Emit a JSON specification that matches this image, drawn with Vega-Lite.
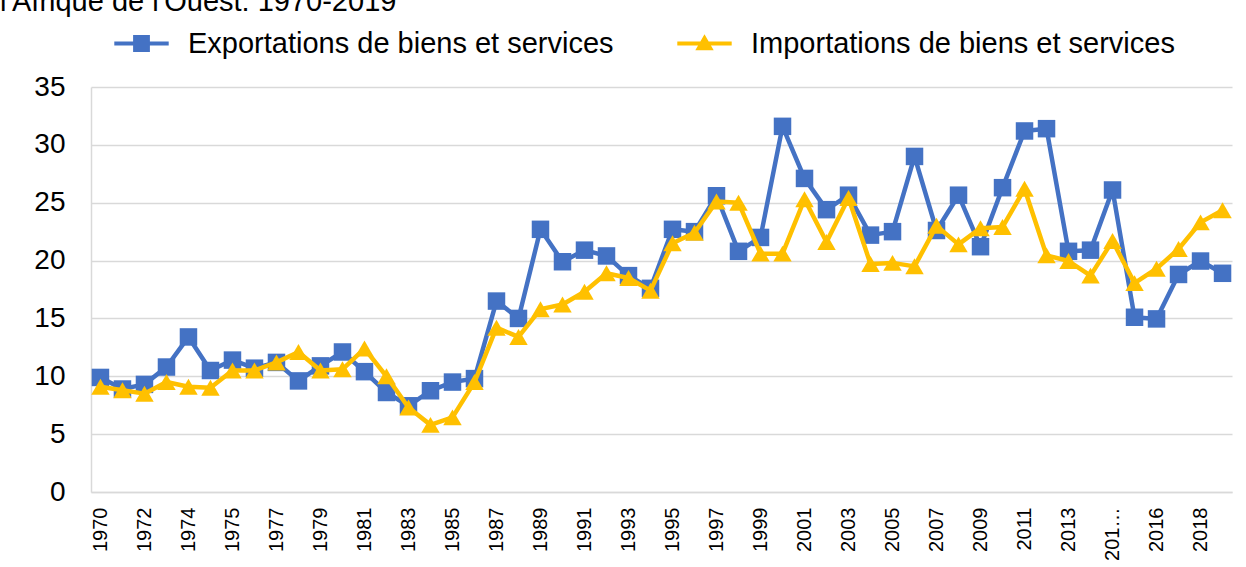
{
  "$schema": "https://vega.github.io/schema/vega-lite/v6.json",
  "autosize": {"type": "none"},
  "padding": {"left": 91, "top": 87, "right": 14, "bottom": 75},
  "width": 1141,
  "height": 405,
  "background": "white",
  "title": {
    "text": "l'Afrique de l'Ouest: 1970-2019",
    "anchor": "start",
    "frame": "group",
    "orient": "top",
    "baseline": "alphabetic",
    "offset": 16,
    "dx": -91,
    "dy": 27,
    "font": "Liberation Sans",
    "fontSize": 29,
    "fontWeight": "normal",
    "color": "#000000"
  },
  "config": {
    "view": {"stroke": null},
    "font": "Liberation Sans",
    "axis": {
      "labelFont": "Liberation Sans",
      "labelColor": "#000000",
      "gridColor": "#d9d9d9",
      "gridWidth": 1.5,
      "domainColor": "#d9d9d9",
      "domainWidth": 1.5,
      "ticks": false,
      "title": null
    },
    "legend": {
      "orient": "none",
      "direction": "horizontal",
      "title": null,
      "padding": 0,
      "symbolSize": 256,
      "symbolStrokeWidth": 0,
      "symbolOpacity": 1,
      "labelFont": "Liberation Sans",
      "labelFontSize": 29,
      "labelColor": "#000000",
      "labelOffset": 32,
      "labelLimit": 600
    }
  },
  "data": {
    "values": [
      {"annee": "1970", "serie": "Exportations de biens et services", "valeur": 9.9},
      {"annee": "1971", "serie": "Exportations de biens et services", "valeur": 8.9},
      {"annee": "1972", "serie": "Exportations de biens et services", "valeur": 9.3},
      {"annee": "1973", "serie": "Exportations de biens et services", "valeur": 10.8},
      {"annee": "1974", "serie": "Exportations de biens et services", "valeur": 13.4},
      {"annee": "1974/75", "serie": "Exportations de biens et services", "valeur": 10.5},
      {"annee": "1975", "serie": "Exportations de biens et services", "valeur": 11.4},
      {"annee": "1976", "serie": "Exportations de biens et services", "valeur": 10.7},
      {"annee": "1977", "serie": "Exportations de biens et services", "valeur": 11.2},
      {"annee": "1978", "serie": "Exportations de biens et services", "valeur": 9.6},
      {"annee": "1979", "serie": "Exportations de biens et services", "valeur": 10.9},
      {"annee": "1980", "serie": "Exportations de biens et services", "valeur": 12.1},
      {"annee": "1981", "serie": "Exportations de biens et services", "valeur": 10.4},
      {"annee": "1982", "serie": "Exportations de biens et services", "valeur": 8.6},
      {"annee": "1983", "serie": "Exportations de biens et services", "valeur": 7.45},
      {"annee": "1984", "serie": "Exportations de biens et services", "valeur": 8.75},
      {"annee": "1985", "serie": "Exportations de biens et services", "valeur": 9.5},
      {"annee": "1986", "serie": "Exportations de biens et services", "valeur": 9.8},
      {"annee": "1987", "serie": "Exportations de biens et services", "valeur": 16.5},
      {"annee": "1988", "serie": "Exportations de biens et services", "valeur": 15.0},
      {"annee": "1989", "serie": "Exportations de biens et services", "valeur": 22.7},
      {"annee": "1990", "serie": "Exportations de biens et services", "valeur": 19.9},
      {"annee": "1991", "serie": "Exportations de biens et services", "valeur": 20.9},
      {"annee": "1992", "serie": "Exportations de biens et services", "valeur": 20.4},
      {"annee": "1993", "serie": "Exportations de biens et services", "valeur": 18.7},
      {"annee": "1994", "serie": "Exportations de biens et services", "valeur": 17.6},
      {"annee": "1995", "serie": "Exportations de biens et services", "valeur": 22.7},
      {"annee": "1996", "serie": "Exportations de biens et services", "valeur": 22.5},
      {"annee": "1997", "serie": "Exportations de biens et services", "valeur": 25.6},
      {"annee": "1998", "serie": "Exportations de biens et services", "valeur": 20.8},
      {"annee": "1999", "serie": "Exportations de biens et services", "valeur": 22.0},
      {"annee": "2000", "serie": "Exportations de biens et services", "valeur": 31.6},
      {"annee": "2001", "serie": "Exportations de biens et services", "valeur": 27.1},
      {"annee": "2002", "serie": "Exportations de biens et services", "valeur": 24.4},
      {"annee": "2003", "serie": "Exportations de biens et services", "valeur": 25.65},
      {"annee": "2004", "serie": "Exportations de biens et services", "valeur": 22.2},
      {"annee": "2005", "serie": "Exportations de biens et services", "valeur": 22.5},
      {"annee": "2006", "serie": "Exportations de biens et services", "valeur": 29.0},
      {"annee": "2007", "serie": "Exportations de biens et services", "valeur": 22.6},
      {"annee": "2008", "serie": "Exportations de biens et services", "valeur": 25.65},
      {"annee": "2009", "serie": "Exportations de biens et services", "valeur": 21.2},
      {"annee": "2010", "serie": "Exportations de biens et services", "valeur": 26.3},
      {"annee": "2011", "serie": "Exportations de biens et services", "valeur": 31.2},
      {"annee": "2012", "serie": "Exportations de biens et services", "valeur": 31.4},
      {"annee": "2013", "serie": "Exportations de biens et services", "valeur": 20.8},
      {"annee": "2014", "serie": "Exportations de biens et services", "valeur": 20.9},
      {"annee": "2015 (révisé)", "serie": "Exportations de biens et services", "valeur": 26.1},
      {"annee": "2015", "serie": "Exportations de biens et services", "valeur": 15.1},
      {"annee": "2016", "serie": "Exportations de biens et services", "valeur": 14.96},
      {"annee": "2017", "serie": "Exportations de biens et services", "valeur": 18.8},
      {"annee": "2018", "serie": "Exportations de biens et services", "valeur": 19.96},
      {"annee": "2019", "serie": "Exportations de biens et services", "valeur": 18.9},
      {"annee": "1970", "serie": "Importations de biens et services", "valeur": 9.1},
      {"annee": "1971", "serie": "Importations de biens et services", "valeur": 8.8},
      {"annee": "1972", "serie": "Importations de biens et services", "valeur": 8.5},
      {"annee": "1973", "serie": "Importations de biens et services", "valeur": 9.5},
      {"annee": "1974", "serie": "Importations de biens et services", "valeur": 9.1},
      {"annee": "1974/75", "serie": "Importations de biens et services", "valeur": 9.0},
      {"annee": "1975", "serie": "Importations de biens et services", "valeur": 10.5},
      {"annee": "1976", "serie": "Importations de biens et services", "valeur": 10.5},
      {"annee": "1977", "serie": "Importations de biens et services", "valeur": 11.2},
      {"annee": "1978", "serie": "Importations de biens et services", "valeur": 12.1},
      {"annee": "1979", "serie": "Importations de biens et services", "valeur": 10.5},
      {"annee": "1980", "serie": "Importations de biens et services", "valeur": 10.6},
      {"annee": "1981", "serie": "Importations de biens et services", "valeur": 12.4},
      {"annee": "1982", "serie": "Importations de biens et services", "valeur": 10.0},
      {"annee": "1983", "serie": "Importations de biens et services", "valeur": 7.3},
      {"annee": "1984", "serie": "Importations de biens et services", "valeur": 5.8},
      {"annee": "1985", "serie": "Importations de biens et services", "valeur": 6.45},
      {"annee": "1986", "serie": "Importations de biens et services", "valeur": 9.5},
      {"annee": "1987", "serie": "Importations de biens et services", "valeur": 14.2},
      {"annee": "1988", "serie": "Importations de biens et services", "valeur": 13.4},
      {"annee": "1989", "serie": "Importations de biens et services", "valeur": 15.8},
      {"annee": "1990", "serie": "Importations de biens et services", "valeur": 16.2},
      {"annee": "1991", "serie": "Importations de biens et services", "valeur": 17.3},
      {"annee": "1992", "serie": "Importations de biens et services", "valeur": 18.9},
      {"annee": "1993", "serie": "Importations de biens et services", "valeur": 18.5},
      {"annee": "1994", "serie": "Importations de biens et services", "valeur": 17.4},
      {"annee": "1995", "serie": "Importations de biens et services", "valeur": 21.5},
      {"annee": "1996", "serie": "Importations de biens et services", "valeur": 22.4},
      {"annee": "1997", "serie": "Importations de biens et services", "valeur": 25.1},
      {"annee": "1998", "serie": "Importations de biens et services", "valeur": 25.0},
      {"annee": "1999", "serie": "Importations de biens et services", "valeur": 20.6},
      {"annee": "2000", "serie": "Importations de biens et services", "valeur": 20.6},
      {"annee": "2001", "serie": "Importations de biens et services", "valeur": 25.3},
      {"annee": "2002", "serie": "Importations de biens et services", "valeur": 21.6},
      {"annee": "2003", "serie": "Importations de biens et services", "valeur": 25.4},
      {"annee": "2004", "serie": "Importations de biens et services", "valeur": 19.7},
      {"annee": "2005", "serie": "Importations de biens et services", "valeur": 19.8},
      {"annee": "2006", "serie": "Importations de biens et services", "valeur": 19.5},
      {"annee": "2007", "serie": "Importations de biens et services", "valeur": 23.0},
      {"annee": "2008", "serie": "Importations de biens et services", "valeur": 21.4},
      {"annee": "2009", "serie": "Importations de biens et services", "valeur": 22.8},
      {"annee": "2010", "serie": "Importations de biens et services", "valeur": 22.9},
      {"annee": "2011", "serie": "Importations de biens et services", "valeur": 26.2},
      {"annee": "2012", "serie": "Importations de biens et services", "valeur": 20.45},
      {"annee": "2013", "serie": "Importations de biens et services", "valeur": 19.96},
      {"annee": "2014", "serie": "Importations de biens et services", "valeur": 18.7},
      {"annee": "2015 (révisé)", "serie": "Importations de biens et services", "valeur": 21.7},
      {"annee": "2015", "serie": "Importations de biens et services", "valeur": 18.05},
      {"annee": "2016", "serie": "Importations de biens et services", "valeur": 19.3},
      {"annee": "2017", "serie": "Importations de biens et services", "valeur": 21.0},
      {"annee": "2018", "serie": "Importations de biens et services", "valeur": 23.3},
      {"annee": "2019", "serie": "Importations de biens et services", "valeur": 24.35}
    ]
  },
  "encoding": {
    "x": {
      "field": "annee",
      "type": "ordinal",
      "sort": null,
      "scale": {"type": "point", "padding": 0.43},
      "axis": {
        "values": ["1970", "1972", "1974", "1975", "1977", "1979", "1981", "1983", "1985", "1987", "1989", "1991", "1993", "1995", "1997", "1999", "2001", "2003", "2005", "2007", "2009", "2011", "2013", "2015 (révisé)", "2016", "2018"],
        "labelAngle": 270,
        "labelAlign": "right",
        "labelBaseline": "middle",
        "labelFontSize": 20,
        "labelPadding": 15,
        "labelLimit": 56,
        "labelOverlap": false,
        "grid": false
      }
    },
    "y": {
      "field": "valeur",
      "type": "quantitative",
      "scale": {"domain": [0, 35], "nice": false},
      "axis": {
        "values": [0, 5, 10, 15, 20, 25, 30, 35],
        "labelFontSize": 28,
        "labelPadding": 26,
        "grid": true
      }
    },
    "color": {
      "field": "serie",
      "type": "nominal",
      "scale": {
        "domain": ["Exportations de biens et services", "Importations de biens et services"],
        "range": ["#4472C4", "#FFC000"]
      },
      "legend": {
        "values": ["Exportations de biens et services"],
        "legendX": 36,
        "legendY": -58,
        "symbolType": "M-3.4,-0.25H3.4V0.25H-3.4Z M-1.05,-1.05H1.05V1.05H-1.05Z"
      }
    }
  },
  "layer": [
    {
      "transform": [{"filter": "datum.serie === 'Exportations de biens et services'"}],
      "mark": {"type": "line", "strokeWidth": 4.5, "strokeJoin": "round"}
    },
    {
      "transform": [{"filter": "datum.serie === 'Exportations de biens et services'"}],
      "mark": {"type": "point", "shape": "square", "filled": true, "opacity": 1, "size": 306, "strokeWidth": 0}
    },
    {
      "transform": [{"filter": "datum.serie === 'Importations de biens et services'"}],
      "mark": {"type": "line", "strokeWidth": 4.5, "strokeJoin": "round"}
    },
    {
      "transform": [{"filter": "datum.serie === 'Importations de biens et services'"}],
      "mark": {"type": "point", "shape": "triangle-up", "filled": true, "size": 340, "strokeWidth": 0},
      "encoding": {
        "opacity": {
          "field": "serie",
          "type": "ordinal",
          "scale": {"range": [1, 1]},
          "legend": {
            "values": ["Importations de biens et services"],
            "legendX": 599,
            "legendY": -58,
            "symbolFillColor": "#FFC000",
            "symbolType": "M-3.4,-0.25H3.4V0.25H-3.4Z M0,-1.15L1.15,0.85H-1.15Z"
          }
        }
      }
    }
  ]
}
